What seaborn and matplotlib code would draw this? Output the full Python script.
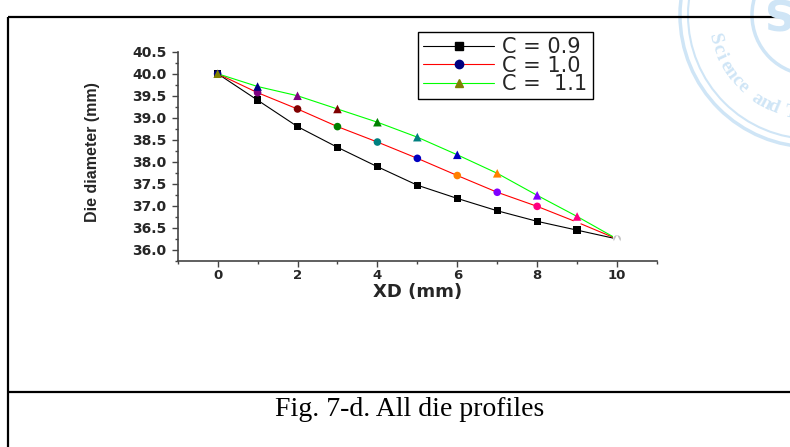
import numpy as np
import pandas as pd
import seaborn as sns
import matplotlib.pyplot as plt
from matplotlib.lines import Line2D
from matplotlib.patches import Circle
from matplotlib.ticker import MultipleLocator

# data
xd = [0, 1, 2, 3, 4, 5, 6, 7, 8, 9, 10]
c09 = [40.0, 39.40, 38.80, 38.33, 37.89, 37.47, 37.17, 36.89, 36.65, 36.45, 36.25]
c10 = [40.0, 39.57, 39.20, 38.80, 38.45, 38.08, 37.69, 37.31, 36.99, 36.63, 36.25]
c11 = [40.0, 39.71, 39.50, 39.20, 38.90, 38.56, 38.16, 37.74, 37.24, 36.76, 36.25]
labels = ["C = 0.9", "C = 1.0", "C =  1.1"]

# Origin style "colour by index" marker colours
origin_cols = ["#808000", "#000080", "#800080", "#800000", "#008000", "#008080",
               "#0000C0", "#FF8000", "#8000FF", "#FF0080", "#FFFFFF", "#C0C0C0"]

sns.set_style("ticks")
plt.rcParams['font.family'] = ['DejaVu Sans']

fig = plt.figure(figsize=(7.9, 4.47), dpi=100)

# background layer in pixel coordinates: frame, caption, watermark
bg = fig.add_axes([0, 0, 1, 1], zorder=0)
bg.set_xlim(0, 790)
bg.set_ylim(447, 0)
bg.axis('off')
stamp = "#cfe5f6"
for r, lw in [(132, 2.5), (124, 1.5), (60, 2.5)]:
    bg.add_patch(Circle((812, 15), r, fill=False, edgecolor=stamp, lw=lw))
word = "Science and T"
angles = np.linspace(166, 102, len(word))
for ch, a in zip(word, angles):
    px = 812 + 100 * np.cos(np.deg2rad(a))
    py = 15 + 100 * np.sin(np.deg2rad(a))
    bg.text(px, py, ch, color=stamp, fontsize=14, fontweight='bold', family='Liberation Serif',
            rotation=90 - a, ha='center', va='center')
bg.text(780, 20, "S", color=stamp, fontsize=30, fontweight='bold', ha='center', va='center')
bg.plot([8, 790], [17, 17], color='black', lw=1.6, solid_capstyle='butt')
bg.plot([8, 8], [17, 447], color='black', lw=1.6, solid_capstyle='butt')
bg.plot([8, 790], [392, 392], color='black', lw=1.6, solid_capstyle='butt')
bg.text(410, 410, "Fig. 7-d. All die profiles", family='Liberation Serif', fontsize=20,
        ha='center', va='center', color='black')

ax = fig.add_axes([177.7 / 790, 1 - 261 / 447, (657 - 177.7) / 790, (261 - 51.7) / 447], zorder=2)
ax.patch.set_alpha(0)

series = [(c09, "black", "s", ["black"] * 10 + ["white"], 28),
          (c10, "#FF0000", "o", origin_cols[1:12], 30),
          (c11, "#00FF00", "^", origin_cols[0:11], 38)]

for vals, lc, m, cols, s in series:
    sns.lineplot(x=xd, y=vals, color=lc, lw=0.8, ax=ax, zorder=2)
for vals, lc, m, cols, s in series:
    df = pd.DataFrame({"x": xd, "y": vals, "p": [f"p{i}" for i in xd]})
    sns.scatterplot(data=df, x="x", y="y", hue="p", palette=dict(zip(df["p"], cols)),
                    marker=m, s=s, linewidth=0, legend=False, ax=ax, zorder=3)

ax.set_xlim(-1, 11)
ax.set_ylim(35.75, 40.5)
ax.xaxis.set_major_locator(MultipleLocator(2))
ax.xaxis.set_minor_locator(MultipleLocator(1))
ax.yaxis.set_minor_locator(MultipleLocator(0.25))
ax.set_yticks(np.arange(36.0, 40.51, 0.5))
ax.set_yticklabels([f"{v:.1f}" for v in np.arange(36.0, 40.51, 0.5)])
for sp in ['top', 'right']:
    ax.spines[sp].set_visible(False)
for sp in ['left', 'bottom']:
    ax.spines[sp].set_color('#444444')
    ax.spines[sp].set_linewidth(1.2)
ax.tick_params(which='major', direction='out', length=4, width=1, color='#444444', pad=4)
ax.tick_params(axis='x', labelsize=9.5, pad=2)
ax.tick_params(axis='y', labelsize=10)
ax.tick_params(which='minor', direction='out', length=2.5, width=1, color='#444444')
for lab in ax.get_xticklabels() + ax.get_yticklabels():
    lab.set_fontweight('bold')

ax.set_xlabel("XD (mm)", fontsize=13, fontweight='bold')
ax.set_ylabel("Die diameter (mm)", fontsize=11.5, fontweight='bold', family='Liberation Sans')
ax.xaxis.set_label_coords(0.5, -0.105)
ax.yaxis.set_label_coords(-0.163, 0.52)

handles = [Line2D([], [], color=lc, lw=0.8, marker=m, markersize=6,
                  markerfacecolor=cols[0], markeredgecolor=cols[0])
           for vals, lc, m, cols, s in series]
leg = fig.legend(handles, labels, loc='upper left', bbox_to_anchor=(418 / 790, 1 - 32 / 447),
                 fontsize=15, frameon=True, fancybox=False, framealpha=1, edgecolor='black',
                 handlelength=3.4, handletextpad=0.4, labelspacing=-0.08, borderpad=0.25,
                 borderaxespad=0, numpoints=1)
leg.get_frame().set_linewidth(1.0)
leg.set_zorder(5)

fig.savefig("out.png", dpi=100)
